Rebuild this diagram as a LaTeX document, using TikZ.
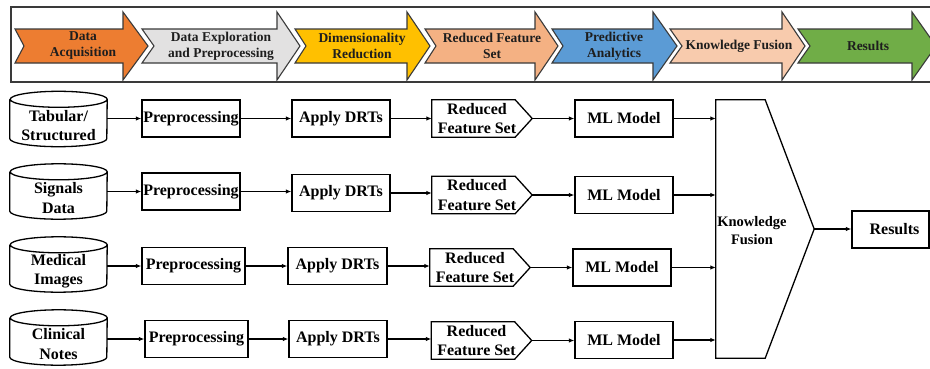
\documentclass[tikz,border=0pt]{standalone}
\usepackage{fontspec}
\setmainfont{Liberation Serif}
\usetikzlibrary{arrows.meta,calc}

\definecolor{stOrange}{HTML}{ED7D31}
\definecolor{stGray}{HTML}{E2E1E1}
\definecolor{stGold}{HTML}{FFC000}
\definecolor{stSalmon}{HTML}{F4B183}
\definecolor{stBlue}{HTML}{5B9BD5}
\definecolor{stPeach}{HTML}{F8CBAD}
\definecolor{stGreen}{HTML}{70AD47}
\definecolor{stEdge}{HTML}{3A3A3A}
\definecolor{stInk}{HTML}{1E1E1E}

\tikzset{
  stagearrow/.style={draw=stEdge, line width=1.1pt, line join=miter},
  stagetext/.style={font=\fontsize{13.5}{16}\selectfont\bfseries, text=stInk, align=center, inner sep=0pt},
  procbox/.style={draw, line width=1.3pt, minimum height=37pt, inner sep=0pt, align=center,
                  font=\fontsize{16}{19.5}\selectfont\bfseries},
  shell/.style={inner sep=0pt, minimum height=37pt},
  outline/.style={draw, line width=1.3pt, line join=miter},
  bodytext/.style={inner sep=0pt, align=center, font=\fontsize{16}{19.5}\selectfont\bfseries},
  flow/.style={line width=1.1pt, -{Latex[length=5.5pt,width=4.5pt]}},
}

% banner chevron arrow: name, tail x, notch x, head base x, tip x, fill, text x, text
\newcommand\stage[8]{%
  \filldraw[stagearrow, fill=#6] (#2,339) -- (#4,339) -- (#4,356) -- (#5,322) -- (#4,288)
      -- (#4,305) -- (#2,305) -- (#3,322) -- cycle;
  \node[stagetext] (#1) at (#7,322) {#8};
}

% data store drum: name, centre x, centre y, text
\newcommand\drum[4]{%
  \node[inner sep=0pt, minimum width=97pt, minimum height=55pt] (#1) at (#2,#3) {};
  \draw[outline] ([yshift=-8pt]#1.north west) -- ([yshift=8pt]#1.south west)
      arc[start angle=180, end angle=360, x radius=48.5pt, y radius=8pt]
      -- ([yshift=-8pt]#1.north east)
      arc[start angle=0, end angle=360, x radius=48.5pt, y radius=8pt];
  \node[bodytext] at ([yshift=-6.5pt]#1.center) {#4};
}

% reduced feature set tag: name, centre x, centre y
\newcommand\tagbox[3]{%
  \node[shell, minimum width=100pt] (#1) at (#2,#3) {};
  \draw[outline] (#1.north west) -- ([xshift=-17pt]#1.north east) -- (#1.east)
      -- ([xshift=-17pt]#1.south east) -- (#1.south west) -- cycle;
  \node[bodytext] at ([xshift=-5pt]#1.center) {Reduced\\Feature Set};
}

\begin{document}
\begin{tikzpicture}[x=1pt, y=1pt]
\useasboundingbox (0,0) rectangle (930,368);
\fill[white] (0,0) rectangle (930,368);

% stage banner
\draw[draw=stEdge, line width=1.6pt] (11,286) rectangle (945,361);
\stage{s1}{15}{24}{123}{148}{stOrange}{83}{Data\\Acquisition}
\stage{s2}{142}{154}{277}{300}{stGray}{221}{Data Exploration\\and Preprocessing}
\stage{s3}{295}{306}{407}{430}{stGold}{362}{Dimensionality\\Reduction}
\stage{s4}{425}{436}{535}{558}{stSalmon}{492}{Reduced Feature\\Set}
\stage{s5}{552}{563}{653}{677}{stBlue}{614}{Predictive\\Analytics}
\stage{s6}{670}{682}{782}{805}{stPeach}{739}{Knowledge Fusion}
\stage{s7}{798}{810}{912}{936}{stGreen}{868}{Results}

% data sources
\drum{d1}{58.5}{249}{Tabular/\\Structured}
\drum{d2}{58.5}{176.5}{Signals\\Data}
\drum{d3}{58.5}{103.5}{Medical\\Images}
\drum{d4}{58.5}{30.5}{Clinical\\Notes}

% preprocessing
\node[procbox, minimum width=98pt]  (p1) at (191,249.5) {Preprocessing};
\node[procbox, minimum width=98pt]  (p2) at (191,176.5) {Preprocessing};
\node[procbox, minimum width=103pt] (p3) at (193.5,102) {Preprocessing};
\node[procbox, minimum width=103pt] (p4) at (196.5,29) {Preprocessing};

% dimensionality reduction
\node[procbox, minimum width=98pt] (a1) at (341,249.5) {Apply DRTs};
\node[procbox, minimum width=98pt] (a2) at (341,175) {Apply DRTs};
\node[procbox, minimum width=99pt] (a3) at (337.5,102) {Apply DRTs};
\node[procbox, minimum width=98pt] (a4) at (338,29) {Apply DRTs};

% reduced feature sets
\tagbox{r1}{482}{249.5}
\tagbox{r2}{482}{173}
\tagbox{r3}{480}{100.5}
\tagbox{r4}{481.5}{27.5}

% models
\node[procbox, minimum width=98pt] (m1) at (624,249.5) {ML Model};
\node[procbox, minimum width=98pt] (m2) at (624,173) {ML Model};
\node[procbox, minimum width=98pt] (m3) at (622,100.5) {ML Model};
\node[procbox, minimum width=98pt] (m4) at (624,28) {ML Model};

% knowledge fusion block
\node[inner sep=0pt, minimum width=98pt, minimum height=258pt] (kf) at (765,139) {};
\draw[outline] (kf.north west) -- ([xshift=-49pt]kf.north east) -- (kf.east)
    -- ([xshift=-49pt]kf.south east) -- (kf.south west) -- cycle;
\node[bodytext, font=\fontsize{14.5}{18}\selectfont\bfseries] at (752,137) {Knowledge\\Fusion};

% results
\node[procbox, minimum width=77pt] (res) at (890.5,138.5) {\hspace*{8pt}Results};

% connectors
\foreach \i in {1,2,3,4} {
  \draw[flow] (d\i.east |- p\i.west) -- (p\i.west);
  \draw[flow] (p\i.east) -- (p\i.east -| a\i.west);
  \draw[flow] (a\i.east) -- (a\i.east -| r\i.west);
  \draw[flow] (r\i.east) -- (r\i.east -| m\i.west);
  \draw[flow] (m\i.east) -- (m\i.east -| kf.west);
}
\draw[flow] (kf.east) -- (kf.east -| res.west);
\end{tikzpicture}
\end{document}
